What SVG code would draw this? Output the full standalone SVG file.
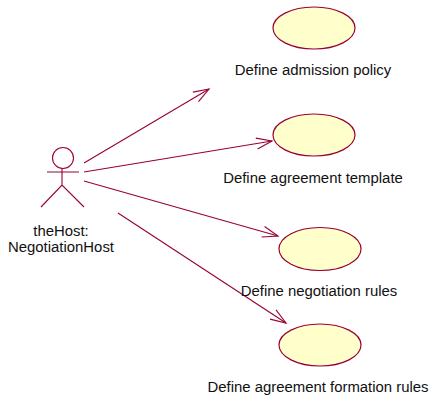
<svg xmlns="http://www.w3.org/2000/svg" width="433" height="401" viewBox="0 0 433 401">
<defs>
<style>
.uc{fill:#ffffcc;stroke:#990033;stroke-width:1.2}
.ln{fill:none;stroke:#990033;stroke-width:1.1}
text{font-family:"Liberation Sans",Arial,sans-serif;font-size:14.9px;fill:#111;text-anchor:middle}
</style>
<marker id="open" viewBox="-16 -8 18 16" refX="0" refY="0" markerWidth="18" markerHeight="16" markerUnits="userSpaceOnUse" orient="auto"><path d="M-15.5,-5.5L0,0L-15.5,5.5" fill="none" stroke="#990033" stroke-width="1.1"/></marker>
</defs>
<rect width="433" height="401" fill="#fff"/>
<g id="connectors">
<line class="ln" x1="84" y1="163" x2="209" y2="89" marker-end="url(#open)"/>
<line class="ln" x1="84" y1="172" x2="272" y2="141" marker-end="url(#open)"/>
<line class="ln" x1="84" y1="181" x2="278" y2="236" marker-end="url(#open)"/>
<line class="ln" x1="118" y1="213" x2="286" y2="323" marker-end="url(#open)"/>
</g>
<g id="actor">
<circle class="ln" cx="63" cy="158" r="10.5"/>
<path class="ln" d="M47,172H79M62,168V185M41,207L62,185L84,207"/>
<text x="61" y="236">theHost:</text>
<text x="61" y="252">NegotiationHost</text>
</g>
<g id="uc1"><ellipse class="uc" cx="314" cy="28" rx="41" ry="21"/><text x="313" y="75">Define admission policy</text></g>
<g id="uc2"><ellipse class="uc" cx="314" cy="135" rx="41" ry="21"/><text x="313" y="183">Define agreement template</text></g>
<g id="uc3"><ellipse class="uc" cx="320" cy="249" rx="41" ry="21.5"/><text x="319" y="296">Define negotiation rules</text></g>
<g id="uc4"><ellipse class="uc" cx="320" cy="345" rx="41" ry="21"/><text x="318" y="392">Define agreement formation rules</text></g>
</svg>
